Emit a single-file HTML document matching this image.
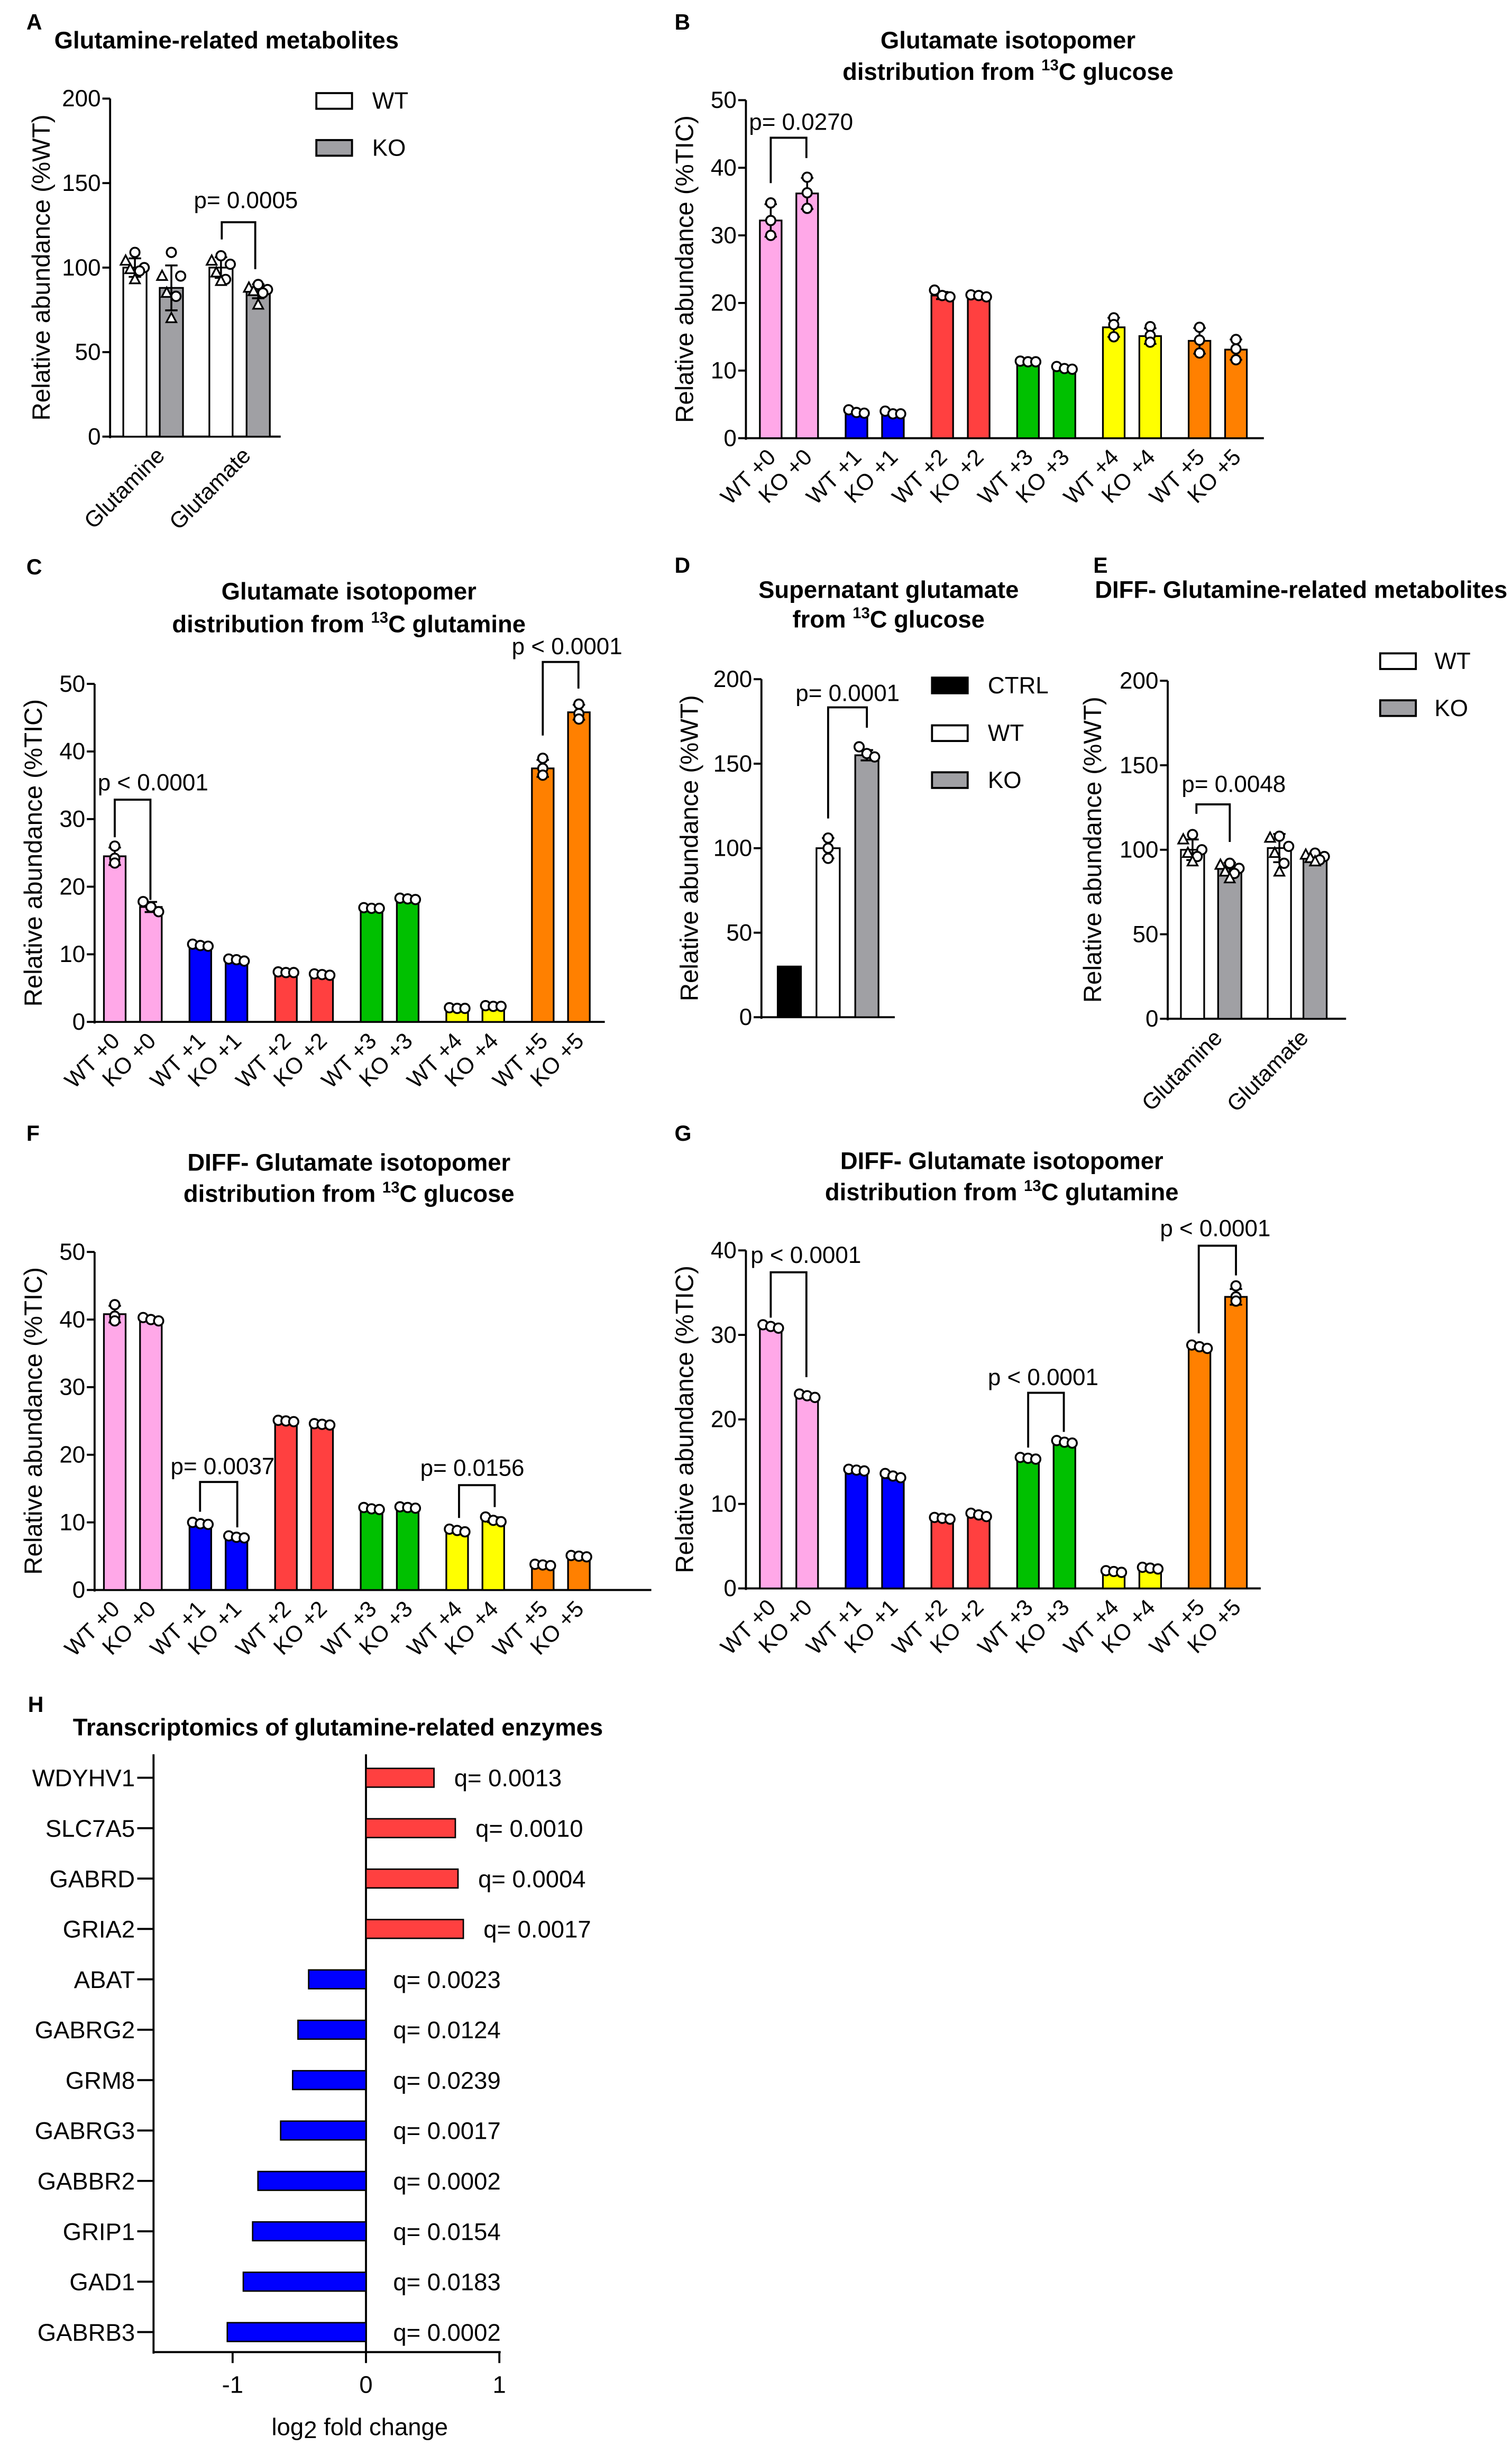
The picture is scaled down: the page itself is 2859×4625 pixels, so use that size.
<!DOCTYPE html>
<html><head><meta charset="utf-8">
<style>
html,body{margin:0;padding:0;background:#fff;}
svg{display:block;}
text{font-family:"Liberation Sans Narrow","Liberation Sans",sans-serif;fill:#000;}
.t{font-weight:bold;font-size:15.5px;}
.pl{font-family:"Liberation Sans",sans-serif;font-weight:bold;font-size:14px;}
.tk{font-size:15px;}
.yl{font-family:"Liberation Sans",sans-serif;font-size:16px;}
.xl{font-family:"Liberation Sans",sans-serif;font-size:14.5px;}
.h{font-family:"Liberation Sans",sans-serif;font-size:15.5px;}
</style></head>
<body>
<svg id="fig" width="2859" height="4625" viewBox="0 0 975 1563" preserveAspectRatio="none" xmlns="http://www.w3.org/2000/svg">
<g id="root"></g>
</svg>
<script>
// ---------- DATA ----------
const isoCats = ["WT +0","KO +0","WT +1","KO +1","WT +2","KO +2","WT +3","KO +3","WT +4","KO +4","WT +5","KO +5"];
const isoColors = ["#FFA8E8","#FFA8E8","#0000FF","#0000FF","#FF4040","#FF4040","#00C000","#00C000","#FFFF00","#FFFF00","#FF8000","#FF8000"];
const isoTicks50 = [0,10,20,30,40,50];
const isoTicks40 = [0,10,20,30,40];
const pctTicks = [0,50,100,150,200];

const aCats = ["Glutamine","Glutamate"];
const aMeans = [100,88,100,86];
const aPts = [[109,104,100,99,98,93],[109,95,95,85,83,70],[107,104,102,97,93,92],[90,88,87,86,85,78]];

const bMeans = [32.2,36.2,3.9,3.7,21.1,20.9,11.3,10.3,16.4,15.1,14.4,13.1];
const bPts = [[34.8,32.2,30],[38.6,36.3,34],[4.2,3.8,3.7],[4,3.6,3.6],[21.9,21.1,20.9],[21.2,21.1,20.9],[11.4,11.3,11.3],[10.6,10.3,10.2],[17.8,16.8,15],[16.5,15.2,14.2],[16.4,14.5,12.6],[14.6,13.2,11.6]];

const cMeans = [24.5,17,11.3,9.2,7.3,7,16.8,18.2,2,2.3,37.5,45.8];
const cPts = [[26,24.2,23.5],[17.8,17,16.3],[11.5,11.3,11.2],[9.3,9.2,9],[7.4,7.3,7.3],[7.1,7,6.9],[16.9,16.8,16.8],[18.3,18.2,18.1],[2.1,2,2],[2.4,2.3,2.3],[39,37.5,36.5],[47,45.6,44.8]];

const dCats = ["CTRL","WT","KO"];
const dMeans = [30,100,155];
const dPts = [null,[106,100,94],[160,156,154]];

const eMeans = [100,89,101,96];
const ePts = [[109,106,100,98,96,93],[92,91,89,87,86,83],[108,107,102,98,92,87],[98,97,96,95,94,93]];

const fMeans = [40.8,40,9.8,7.8,25,24.5,12,12.2,8.8,10.4,3.7,5];
const fPts = [[42.2,40.5,39.8],[40.3,40,39.8],[10,9.8,9.7],[8,7.8,7.7],[25.1,25,24.9],[24.6,24.5,24.4],[12.2,12,11.9],[12.3,12.2,12.1],[9,8.8,8.6],[10.8,10.3,10.1],[3.8,3.7,3.6],[5.1,5,4.9]];

const gMeans = [31,22.8,14,13.3,8.3,8.7,15.4,17.3,2,2.4,28.6,34.5];
const gPts = [[31.2,31,30.8],[23,22.8,22.6],[14.1,14,13.9],[13.6,13.3,13.1],[8.4,8.3,8.2],[8.9,8.7,8.5],[15.5,15.4,15.3],[17.5,17.3,17.2],[2.1,2,1.9],[2.5,2.4,2.3],[28.8,28.6,28.4],[35.8,34.5,34]];

const hGenes = ["WDYHV1","SLC7A5","GABRD","GRIA2","ABAT","GABRG2","GRM8","GABRG3","GABBR2","GRIP1","GAD1","GABRB3"];
const hValues = [0.51,0.67,0.69,0.73,-0.43,-0.51,-0.55,-0.64,-0.81,-0.85,-0.92,-1.04];
const hQ = ["0.0013","0.0010","0.0004","0.0017","0.0023","0.0124","0.0239","0.0017","0.0002","0.0154","0.0183","0.0002"];
const hTicks = [-1,0,1];

// ---------- HELPERS ----------
const NS="http://www.w3.org/2000/svg";
const root=document.getElementById('root');
function mk(tag,attrs,parent){const e=document.createElementNS(NS,tag);for(const k in attrs)e.setAttribute(k,attrs[k]);(parent||root).appendChild(e);return e;}
function txt(s,attrs,parent){const e=mk('text',attrs,parent);e.textContent=s;return e;}
function line(x1,y1,x2,y2,p,w){return mk('line',{x1,y1,x2,y2,stroke:'#000','stroke-width':w||1.3},p);}

function group(name){const g=mk('g',{});return g;}

function title(g,lines,cx,ys,anchor){
  lines.forEach((l,i)=>{
    const t=txt('',{x:cx,y:ys[i],'text-anchor':anchor||'middle',class:'t'},g);
    
    
    if(l.indexOf('13C')>=0){
      const parts=l.split('13C');
      t.appendChild(document.createTextNode(parts[0]));
      const s=document.createElementNS(NS,'tspan');s.setAttribute('font-size','10');s.setAttribute('dy','-6');s.textContent='13';t.appendChild(s);
      const s2=document.createElementNS(NS,'tspan');s2.setAttribute('dy','6');s2.textContent='C'+parts[1];t.appendChild(s2);
    } else t.textContent=l;
  });
}
function plabel(g,s,x,y){const t=txt(s,{x,y,class:'pl'},g);}

function yAxis(g,o){
  const y=v=>o.yBot-v/o.max*(o.yBot-o.yTop);
  const ax=line(o.ax,o.yTop,o.ax,o.yBot+1,g);
  const bx=line(o.ax,o.yBot,o.xEnd,o.yBot,g);
  o.ticks.forEach(v=>{
    line(o.ax-5,y(v),o.ax,y(v),g);
    const t=txt(String(v),{x:o.ax-6,y:y(v)+5,'text-anchor':'end',class:'tk'},g);
    
  });
  const yl=txt(o.ylabel,{x:0,y:0,'text-anchor':'middle',class:'yl',transform:`translate(${o.ylx},${(o.yTop+o.yBot)/2}) rotate(-90)`},g);
  
  return y;
}
function marker(g,x,yy,tri){
  if(tri){const p=mk('polygon',{points:`${x},${yy-3.5} ${x-3.2},${yy+2.5} ${x+3.2},${yy+2.5}`,fill:'#fff',stroke:'#000','stroke-width':1.1},g);}
  else{const c=mk('circle',{cx:x,cy:yy,r:3,fill:'#fff',stroke:'#000','stroke-width':1.2},g);}
}
function bars(g,y,o){
  o.means.forEach((m,i)=>{
    const cx=o.centers[i],w=o.w;
    const r=mk('rect',{x:cx-w/2,y:y(m),width:w,height:y(0)-y(m),fill:o.colors[i],stroke:'#000','stroke-width':1.1},g);
    
    
    const pts=o.pts[i];
    if(!pts)return;
    const mean=pts.reduce((a,b)=>a+b,0)/pts.length;
    const sd=Math.sqrt(pts.reduce((a,b)=>a+(b-mean)*(b-mean),0)/(pts.length-1));
    if(sd>0){
      line(cx,y(m+sd),cx,y(m-sd),g,1.2);
      line(cx-4,y(m+sd),cx+4,y(m+sd),g,1.2);
      line(cx-4,y(m-sd),cx+4,y(m-sd),g,1.2);
    }
    const spreadPx=Math.abs(y(Math.max(...pts))-y(Math.min(...pts)));
    let offs;
    if(pts.length===3) offs = spreadPx<8?[-5,0,5]:[0,0,0];
    else offs=[0,-6,6,-3,3,0];
    pts.forEach((v,j)=>marker(g,cx+offs[j],y(v),o.tri&&j%2===1));
  });
}
function bracket(g,s,tx,ty,x1,y1,x2,y2,top){
  const t=txt(s,{x:tx,y:ty,class:'tk'},g);
  const p=mk('polyline',{points:`${x1},${y1} ${x1},${top} ${x2},${top} ${x2},${y2}`,fill:'none',stroke:'#000','stroke-width':1.3},g);
  
}
function xLabels(g,labels,centers,yAx,dx){
  labels.forEach((l,i)=>{
    const x=centers[i]+(dx||4),yy=yAx+13;
    const t=txt(l,{x:0,y:0,'text-anchor':'end',class:'xl',transform:`translate(${x},${yy}) rotate(-45)`},g);
    
  });
}
function legend(g,items,bx,ys,tx){
  items.forEach((it,i)=>{
    const r=mk('rect',{x:bx,y:ys[i],width:23,height:10,fill:it[1],stroke:'#000','stroke-width':1.3},g);
    
    const t=txt(it[0],{x:tx,y:ys[i]+10,class:'tk'},g);
  });
}
function isoCenters(first,groupStep,pair){return isoCats.map((c,i)=>first+Math.floor(i/2)*groupStep+(i%2)*pair);}

// ---------- PANEL A ----------
(function(){
  const g=group('panel-a');
  plabel(g,'A',17,19);
  title(g,['Glutamine-related metabolites'],35,[31],'start');
  const o={ax:71,yTop:63,yBot:279,xEnd:181,max:200,ticks:pctTicks,ylabel:'Relative abundance (%WT)',ylx:32};
  const y=yAxis(g,o);
  const centers=[87,110.5,142.5,166.5];
  bars(g,y,{means:aMeans,pts:aPts,centers,w:15,colors:['#fff','#a0a0a4','#fff','#a0a0a4'],tri:true,names:['wt-glutamine','ko-glutamine','wt-glutamate','ko-glutamate']});
  xLabels(g,aCats,[99,154.5],279,8);
  legend(g,[['WT','#fff'],['KO','#a0a0a4']],204,[59.5,89.5],240);
  bracket(g,'p= 0.0005',125,133,143,153,164.6,172,142);
})();

// ---------- PANEL B ----------
(function(){
  const g=group('panel-b');
  plabel(g,'B',435,19);
  title(g,['Glutamate isotopomer','distribution from 13C glucose'],650,[31,51]);
  const o={ax:481,yTop:64,yBot:280,xEnd:815,max:50,ticks:isoTicks50,ylabel:'Relative abundance (%TIC)',ylx:447};
  const y=yAxis(g,o);
  const c=isoCenters(497,55.3,23.5);
  bars(g,y,{means:bMeans,pts:bPts,centers:c,w:14,colors:isoColors,names:isoCats});
  xLabels(g,isoCats,c,280);
  bracket(g,'p= 0.0270',483,83,497,117,520,101,88);
})();

// ---------- PANEL C ----------
(function(){
  const g=group('panel-c');
  plabel(g,'C',17,367);
  title(g,['Glutamate isotopomer','distribution from 13C glutamine'],225,[383,404]);
  const o={ax:61,yTop:437,yBot:653,xEnd:390,max:50,ticks:isoTicks50,ylabel:'Relative abundance (%TIC)',ylx:27};
  const y=yAxis(g,o);
  const c=isoCenters(74,55.2,23.3);
  bars(g,y,{means:cMeans,pts:cPts,centers:c,w:14,colors:isoColors,names:isoCats});
  xLabels(g,isoCats,c,653);
  bracket(g,'p < 0.0001',63,505,74,535,97,575,511);
  bracket(g,'p < 0.0001',330,418,350,470,373,440,423);
})();

// ---------- PANEL D ----------
(function(){
  const g=group('panel-d');
  plabel(g,'D',435,366);
  title(g,['Supernatant glutamate','from 13C glucose'],573,[382,401]);
  const o={ax:491,yTop:434,yBot:650,xEnd:577,max:200,ticks:pctTicks,ylabel:'Relative abundance (%WT)',ylx:450};
  const y=yAxis(g,o);
  bars(g,y,{means:dMeans,pts:dPts,centers:[509,534,559],w:15,colors:['#000','#fff','#a0a0a4'],names:dCats});
  legend(g,[['CTRL','#000'],['WT','#fff'],['KO','#a0a0a4']],601,[433,463.5,493.5],637);
  bracket(g,'p= 0.0001',513,448,534,523,559,465,452);
})();

// ---------- PANEL E ----------
(function(){
  const g=group('panel-e');
  plabel(g,'E',705,366);
  title(g,['DIFF- Glutamine-related metabolites'],706,[382],'start');
  const o={ax:753,yTop:435,yBot:651,xEnd:868,max:200,ticks:pctTicks,ylabel:'Relative abundance (%WT)',ylx:710};
  const y=yAxis(g,o);
  bars(g,y,{means:eMeans,pts:ePts,centers:[769,793,825,848],w:15,colors:['#fff','#a0a0a4','#fff','#a0a0a4'],tri:true,names:['wt-glutamine','ko-glutamine','wt-glutamate','ko-glutamate']});
  xLabels(g,aCats,[781,836.5],651,8);
  legend(g,[['WT','#fff'],['KO','#a0a0a4']],890,[417.5,447.5],925);
  bracket(g,'p= 0.0048',762,506,771.5,520,793,538,514);
})();

// ---------- PANEL F ----------
(function(){
  const g=group('panel-f');
  plabel(g,'F',17,729);
  title(g,['DIFF- Glutamate isotopomer','distribution from 13C glucose'],225,[748,768]);
  const o={ax:61,yTop:800,yBot:1016,xEnd:420,max:50,ticks:isoTicks50,ylabel:'Relative abundance (%TIC)',ylx:27};
  const y=yAxis(g,o);
  const c=isoCenters(74,55.2,23.3);
  bars(g,y,{means:fMeans,pts:fPts,centers:c,w:14,colors:isoColors,names:isoCats});
  xLabels(g,isoCats,c,1016);
  bracket(g,'p= 0.0037',110,942,129,966,153,976,947);
  bracket(g,'p= 0.0156',271,943,296,970,319,963,949);
})();

// ---------- PANEL G ----------
(function(){
  const g=group('panel-g');
  plabel(g,'G',435,729);
  title(g,['DIFF- Glutamate isotopomer','distribution from 13C glutamine'],646,[747,767]);
  const o={ax:481,yTop:799,yBot:1015,xEnd:813,max:40,ticks:isoTicks40,ylabel:'Relative abundance (%TIC)',ylx:447};
  const y=yAxis(g,o);
  const c=isoCenters(497,55.3,23.5);
  bars(g,y,{means:gMeans,pts:gPts,centers:c,w:14,colors:isoColors,names:isoCats});
  xLabels(g,isoCats,c,1015);
  bracket(g,'p < 0.0001',484,807,497,842,520,880,813);
  bracket(g,'p < 0.0001',637,885,663,925,686,915,890);
  bracket(g,'p < 0.0001',748,790,773,852,797,815,796);
})();

// ---------- PANEL H ----------
(function(){
  const g=group('panel-h');
  plabel(g,'H',18,1094);
  const t=txt('Transcriptomics of glutamine-related enzymes',{x:47,y:1109,class:'h','font-weight':'bold','font-size':'15'},g);
  
  const zero=236, unit=86, top=1121, bot=1503, row0=1136, step=32.2;
  const x=v=>zero+v*unit;
  const yv=line(99,top,99,bot+1,g);
  const xa=line(99,bot,x(1.01),bot,g);
  const zl=line(x(0),top,x(0),bot,g);
  hTicks.forEach(v=>{
    line(x(v),bot,x(v),bot+7,g);
    const tl=txt(String(v),{x:x(v),y:1529,'text-anchor':'middle',class:'h','font-size':'15'},g);
    
  });
  hGenes.forEach((gname,i)=>{
    const yy=row0+i*step, v=hValues[i];
    line(88.5,yy,99,yy,g);
    const gl=txt(gname,{x:87,y:yy+5.5,'text-anchor':'end',class:'h'},g);
    
    const r=mk('rect',{x:Math.min(x(0),x(v)),y:yy-6,width:Math.abs(x(v)-x(0)),height:12,fill:v>0?'#FF4040':'#0000FF',stroke:'#000','stroke-width':0.9},g);
    
    const qx = v>0 ? x(v)+13 : 253.5;
    const q=txt('q= '+hQ[i],{x:qx,y:yy+5.5,class:'h'},g);
    
  });
  const xl=txt('',{x:232,y:1556,'text-anchor':'middle',class:'h','font-size':'15.5'},g);
  
  xl.appendChild(document.createTextNode('log'));
  const s=document.createElementNS(NS,'tspan');s.setAttribute('dy','2');s.textContent='2';xl.appendChild(s);
  const s2=document.createElementNS(NS,'tspan');s2.setAttribute('dy','-2');s2.textContent=' fold change';xl.appendChild(s2);
})();
</script>
</body></html>
